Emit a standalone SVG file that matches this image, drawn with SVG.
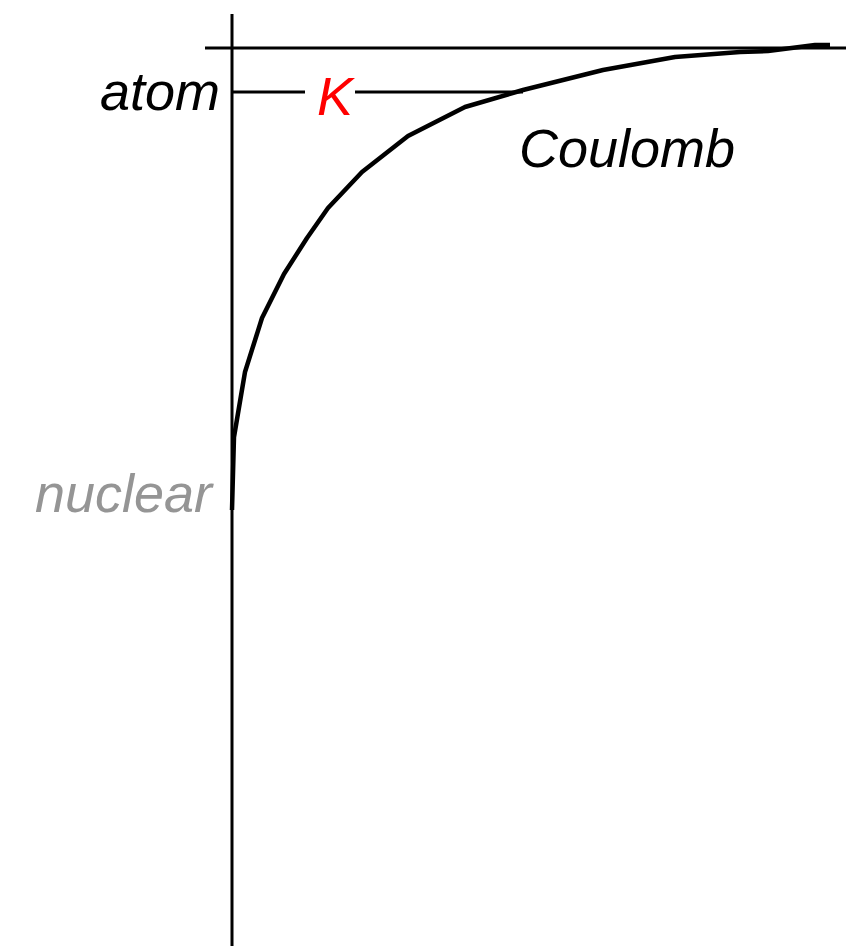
<svg xmlns="http://www.w3.org/2000/svg" width="846" height="951" viewBox="0 0 846 951">
<style>
.ax{stroke:#000;stroke-width:3;fill:none}
.lbl{font-family:"Liberation Sans",Arial,sans-serif;font-style:italic;font-size:54px}
</style>
<rect width="846" height="951" fill="#fff"/>
<g id="axes">
<line class="ax" x1="232" y1="14" x2="232" y2="946"/>
<line class="ax" x1="205" y1="48" x2="846" y2="48"/>
</g>
<g id="atom-level">
<line class="ax" x1="232" y1="92" x2="305" y2="92"/>
<line class="ax" x1="355" y1="92" x2="523" y2="92"/>
<text class="lbl" x="220" y="110" text-anchor="end" fill="#000">atom</text>
<text class="lbl" x="317" y="115" fill="#ff0000">K</text>
</g>
<g id="curve">
<polyline fill="none" stroke="#000" stroke-width="4.5" stroke-linejoin="round" points="232,510 234,437 245,372 262,318 284,274 307,238 328,208 362,172 408,136 465,107 523,90 603,70 675,57 740,52 768,51 815,45 830,45"/>
<text class="lbl" x="519" y="167" fill="#000">Coulomb</text>
</g>
<g id="nuclear">
<text class="lbl" x="212" y="512" text-anchor="end" fill="#959595">nuclear</text>
</g>
</svg>
